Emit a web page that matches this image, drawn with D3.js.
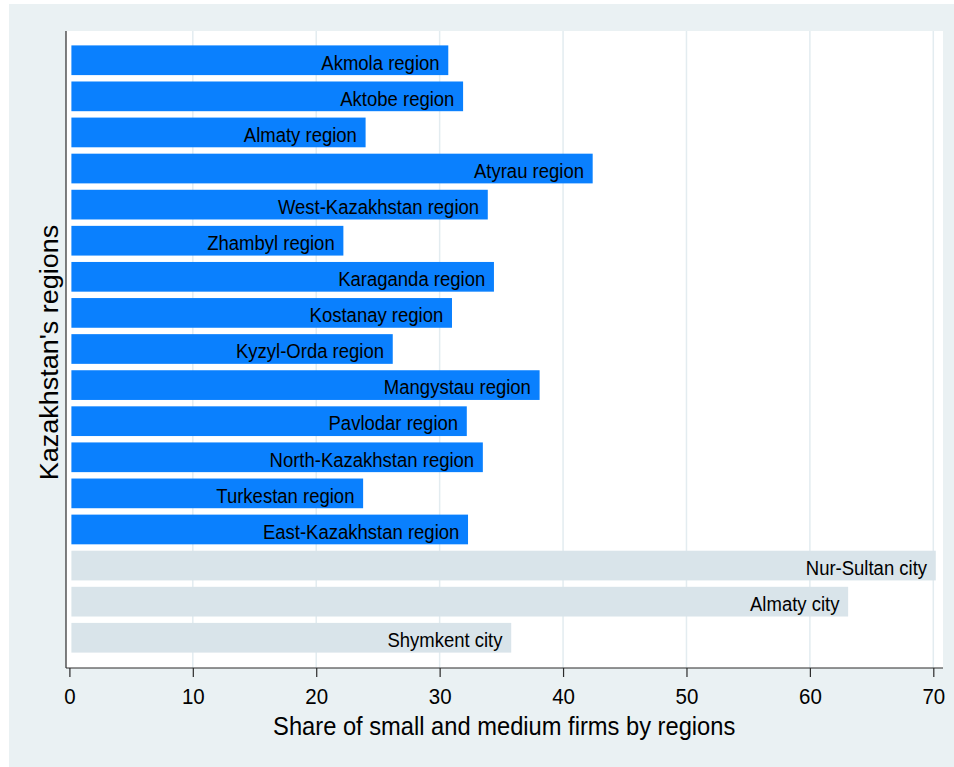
<!DOCTYPE html>
<html>
<head>
<meta charset="utf-8">
<script src="https://cdn.jsdelivr.net/npm/d3@7"></script>
<style>
  html, body { margin: 0; padding: 0; background: #ffffff; }
  svg { display: block; font-family: "Liberation Sans", Arial, Helvetica, sans-serif; }
</style>
</head>
<body>
<svg id="chart" width="954" height="767"></svg>
<script>
// ---- data ----
const categories = [
  "Akmola region", "Aktobe region", "Almaty region", "Atyrau region",
  "West-Kazakhstan region", "Zhambyl region", "Karaganda region", "Kostanay region",
  "Kyzyl-Orda region", "Mangystau region", "Pavlodar region", "North-Kazakhstan region",
  "Turkestan region", "East-Kazakhstan region",
  "Nur-Sultan city", "Almaty city", "Shymkent city"
];
const shares = [
  30.7, 31.9, 24.0, 42.4,
  33.9, 22.2, 34.4, 31.0,
  26.2, 38.1, 32.2, 33.5,
  23.8, 32.3,
  70.2, 63.1, 35.8
];
const kinds = [
  "region", "region", "region", "region",
  "region", "region", "region", "region",
  "region", "region", "region", "region",
  "region", "region",
  "city", "city", "city"
];
const xTicks = [0, 10, 20, 30, 40, 50, 60, 70];
const xTitle = "Share of small and medium firms by regions";
const yTitle = "Kazakhstan's regions";

// ---- layout ----
const svg = d3.select("#chart");
const W = 954, H = 767;
const plot = { left: 66, right: 943, top: 31, bottom: 668 };
const stretch = 1.08;
const colorFor = { region: "#0a80fe", city: "#d9e4ea" };

// outer background
svg.append("rect").attr("x", 9).attr("y", 4).attr("width", W - 9).attr("height", H - 4)
  .attr("fill", "#eaf1f3");
// plot area
svg.append("rect").attr("x", plot.left).attr("y", plot.top)
  .attr("width", plot.right - plot.left).attr("height", plot.bottom - plot.top)
  .attr("fill", "#ffffff");

const x = d3.scaleLinear().domain([0, 70]).range([69.4, 933.3]);
const y = d3.scaleBand().domain(categories).range([42.2, 655.8])
  .paddingInner(0.177).paddingOuter(0.0885);

// gridlines
svg.append("g").selectAll("line").data(xTicks.filter(t => t > 0)).join("line")
  .attr("x1", d => x(d)).attr("x2", d => x(d))
  .attr("y1", plot.top).attr("y2", plot.bottom)
  .attr("stroke", "#e3ecf0").attr("stroke-width", 1.5);

// bars
const data = categories.map((c, i) => ({ c, v: shares[i], k: kinds[i] }));
svg.append("g").selectAll("rect").data(data).join("rect")
  .attr("x", x(0) + 2)
  .attr("y", d => y(d.c))
  .attr("width", d => x(d.v) - x(0) - 2)
  .attr("height", y.bandwidth())
  .attr("fill", d => colorFor[d.k]);

// bar labels
svg.append("g").selectAll("text").data(data).join("text")
  .attr("transform", d => `translate(${x(d.v) - 8.7},${y(d.c) + y.bandwidth() / 2 + 9.3}) scale(1,${stretch})`)
  .attr("text-anchor", "end")
  .attr("font-size", "18.5px")
  .attr("fill", "#000")
  .text(d => d.c);

// left axis line
svg.append("line").attr("x1", plot.left).attr("x2", plot.left)
  .attr("y1", plot.top).attr("y2", plot.bottom)
  .attr("stroke", "#2b2b2b").attr("stroke-width", 1.2);

// bottom axis
const xAxis = d3.axisBottom(x).tickValues(xTicks).tickSize(9).tickSizeOuter(0).tickFormat(d3.format("d"));
const gx = svg.append("g").attr("transform", `translate(0,${plot.bottom})`).call(xAxis);
gx.select(".domain").attr("d", `M${plot.left},0H${plot.right}`).attr("stroke", "#2b2b2b").attr("stroke-width", 1.2);
gx.selectAll(".tick line").attr("stroke", "#2b2b2b").attr("stroke-width", 1.2);
gx.selectAll(".tick text")
  .attr("y", null).attr("dy", null)
  .attr("transform", `translate(0,36.3) scale(1,${stretch})`)
  .attr("font-size", "20.5px")
  .attr("font-family", "\"Liberation Sans\", Arial, Helvetica, sans-serif")
  .attr("fill", "#000");

// axis titles
svg.append("text")
  .attr("transform", `translate(504.2,735) scale(1,${stretch})`)
  .attr("text-anchor", "middle")
  .attr("font-size", "23.7px")
  .attr("fill", "#000")
  .text(xTitle);

svg.append("text")
  .attr("transform", `translate(58.3,352.5) rotate(-90) scale(${stretch},1)`)
  .attr("text-anchor", "middle")
  .attr("font-size", "25px")
  .attr("fill", "#000")
  .text(yTitle);
</script>
</body>
</html>
